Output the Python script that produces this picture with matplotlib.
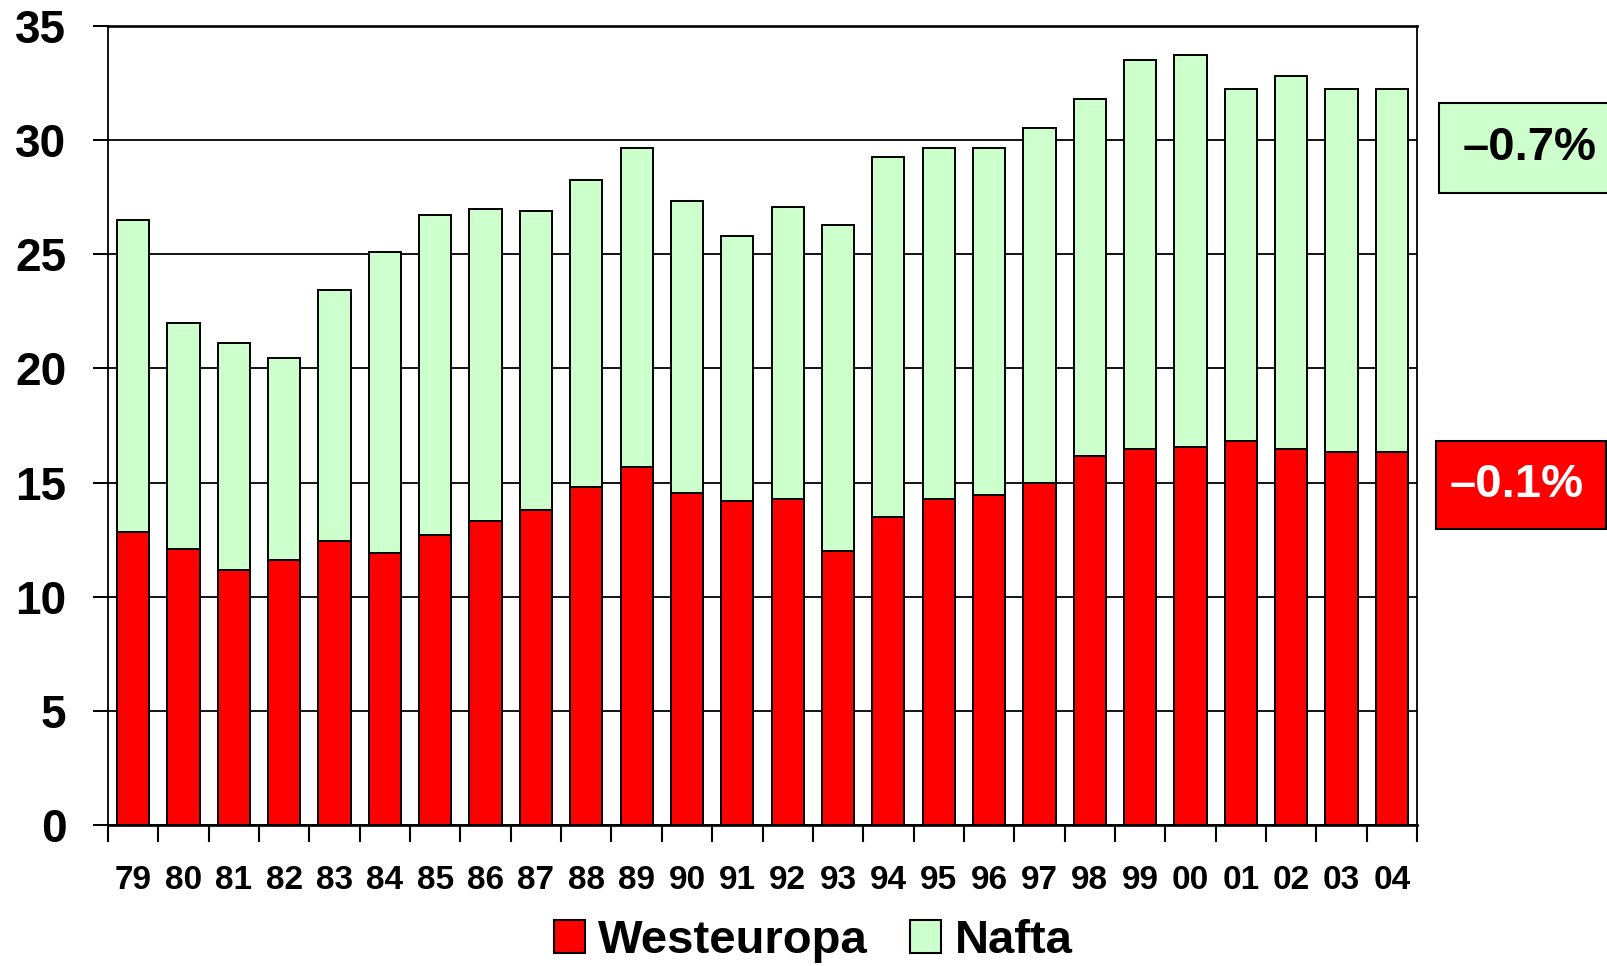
import matplotlib
matplotlib.use('Agg')
import matplotlib.pyplot as plt
from matplotlib.patches import Rectangle
import numpy as np

# data
years = ['79', '80', '81', '82', '83', '84', '85', '86', '87', '88', '89', '90', '91',
         '92', '93', '94', '95', '96', '97', '98', '99', '00', '01', '02', '03', '04']
westeuropa = [12.85, 12.1, 11.15, 11.6, 12.45, 11.9, 12.7, 13.3, 13.8, 14.8, 15.7, 14.55, 14.2,
              14.3, 12.0, 13.5, 14.3, 14.45, 15.0, 16.15, 16.45, 16.55, 16.8, 16.45, 16.35, 16.35]
total = [26.5, 22.0, 21.1, 20.45, 23.45, 25.1, 26.7, 27.0, 26.9, 28.25, 29.65, 27.35, 25.8,
         27.05, 26.3, 29.25, 29.65, 29.65, 30.55, 31.8, 33.5, 33.75, 32.25, 32.8, 32.25, 32.25]
nafta = [t - w for t, w in zip(total, westeuropa)]
growth_nafta = '\u20130.7%'
growth_west = '\u20130.1%'

RED = '#FF0000'
GREEN = '#CCFFCC'

plt.rcParams['font.family'] = ['Liberation Sans', 'DejaVu Sans']
plt.rcParams['font.weight'] = 'bold'

W, H = 1607, 966
fig = plt.figure(figsize=(W / 100, H / 100), dpi=100)
fig.patch.set_facecolor('white')
ax = fig.add_axes([108 / W, 1 - 825 / H, (1417 - 108) / W, (825 - 26) / H])

x = np.arange(len(years))
b1 = ax.bar(x, westeuropa, width=0.64, color=RED, edgecolor='black', linewidth=1.4,
            label='Westeuropa', zorder=3)
b2 = ax.bar(x, nafta, width=0.64, bottom=westeuropa, color=GREEN, edgecolor='black',
            linewidth=1.4, label='Nafta', zorder=3)

ax.set_xlim(-0.5, len(years) - 0.5)
ax.set_ylim(0, 35)
ax.set_yticks(np.arange(0, 36, 5))
ax.yaxis.grid(True, color='black', linewidth=1.3, zorder=0)
ax.set_axisbelow(True)

# labels in the middle, tick marks on the category boundaries
ax.set_xticks(x, years)
ax.tick_params(axis='x', which='major', length=0, pad=29, labelsize=24)
ax.set_xticks(np.arange(-0.5, len(years), 1.0), minor=True)
ax.tick_params(axis='x', which='minor', length=12, width=1.5, direction='out')
ax.tick_params(axis='y', length=11, width=1.4, direction='out', pad=19, labelsize=33)
for lab in ax.get_xticklabels() + ax.get_yticklabels():
    lab.set_fontweight('bold')

for side in ['left', 'right']:
    ax.spines[side].set_linewidth(1.3)
ax.spines['bottom'].set_linewidth(1.9)
ax.spines['top'].set_linewidth(1.9)

leg = fig.legend(handles=[b1, b2], loc='center', bbox_to_anchor=(0.506, 0.026), ncol=2,
                 frameon=False, fontsize=34, handlelength=0.66, handleheight=0.72,
                 handletextpad=0.28, columnspacing=0.9, borderpad=0)
for t in leg.get_texts():
    t.set_fontweight('bold')
for p in leg.get_patches():
    p.set_edgecolor('black')
    p.set_linewidth(1.5)


def px_box(x0, y0, x1, y1, color, text, tcolor, tx):
    fig.patches.append(Rectangle((x0 / W, 1 - y1 / H), (x1 - x0) / W, (y1 - y0) / H,
                                 transform=fig.transFigure, facecolor=color,
                                 edgecolor='black', linewidth=1.5, clip_on=False))
    fig.text(tx / W, 1 - (y0 + y1) / 2 / H, text, color=tcolor, fontsize=34,
             fontweight='bold', ha='center', va='center')


px_box(1439, 103, 1620, 193, GREEN, growth_nafta, 'black', 1530)
px_box(1436, 441, 1606, 529, RED, growth_west, 'white', 1517)

fig.savefig('out.png', dpi=100, facecolor='white')
